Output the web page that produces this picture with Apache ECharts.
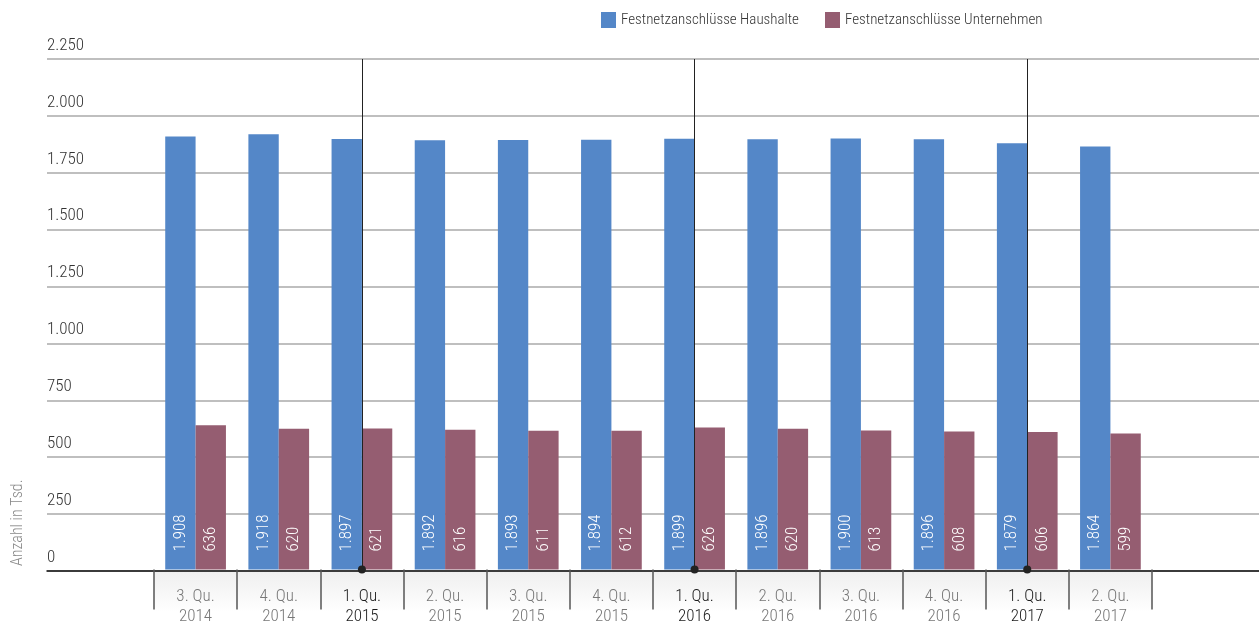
<!DOCTYPE html>
<html>
<head>
<meta charset="utf-8">
<script src="https://cdn.jsdelivr.net/npm/echarts@6/dist/echarts.min.js"></script>
<style>html,body{margin:0;padding:0;background:#fff;}#c{width:1259px;height:625px;}</style>
</head>
<body>
<div id="c"></div>
<script>
const quarters = ['3. Qu.','4. Qu.','1. Qu.','2. Qu.','3. Qu.','4. Qu.','1. Qu.','2. Qu.','3. Qu.','4. Qu.','1. Qu.','2. Qu.'];
const years = ['2014','2014','2015','2015','2015','2015','2016','2016','2016','2016','2017','2017'];
const haushalte = [1908,1918,1897,1892,1893,1894,1899,1896,1900,1896,1879,1864];
const unternehmen = [636,620,621,616,611,612,626,620,613,608,606,599];
const yTicks = [0,250,500,750,1000,1250,1500,1750,2000,2250];
const markedCategories = ['1. Qu.\n2015','1. Qu.\n2016','1. Qu.\n2017'];

const categories = quarters.map((q,i)=>q+'\n'+years[i]);
const FONT = "'Roboto Condensed','Liberation Sans Narrow','DejaVu Sans Condensed','Arial Narrow',sans-serif";
const FW = 300;
const de = v => String(v).replace(/\B(?=(\d{3})+(?!\d))/g,'.');
const TOP = 59, BOTTOM = 54;

const chart = echarts.init(document.getElementById('c'), null, {renderer:'canvas'});
chart.setOption({
  animation:false,
  textStyle:{fontFamily:FONT,fontWeight:FW},
  legend:{
    data:['Festnetzanschlüsse Haushalte','Festnetzanschlüsse Unternehmen'],
    left:596, top:7, icon:'rect', itemWidth:15, itemHeight:16, itemGap:26,
    textStyle:{fontFamily:FONT,fontWeight:FW,fontSize:15,color:'#333'}
  },
  grid:[
    {left:47,right:0,top:TOP,bottom:BOTTOM},
    {left:154,right:107,top:TOP,bottom:BOTTOM}
  ],
  xAxis:[
    {gridIndex:0,type:'value',min:0,max:1,show:true,
     axisLine:{show:true,lineStyle:{color:'#111',width:1.5}},
     axisTick:{show:false},axisLabel:{show:false},splitLine:{show:false}},
    {gridIndex:1,type:'category',data:categories,boundaryGap:true,
     axisLine:{show:false},
     axisTick:{show:true,length:40,lineStyle:{color:'#555',width:1.5}},
     axisLabel:{margin:17,interval:0,
       formatter:function(v){return markedCategories.indexOf(v)>=0?'{b|'+v.replace('\n','}\n{b|')+'}':'{n|'+v.replace('\n','}\n{n|')+'}';},
       rich:{
         n:{fontFamily:FONT,fontWeight:FW,fontSize:17,color:'#777',lineHeight:20},
         b:{fontFamily:FONT,fontWeight:FW,fontSize:17,color:'#1a1a1a',lineHeight:20}
       }}
    }
  ],
  yAxis:[
    {gridIndex:0,type:'value',min:0,max:2250,interval:250,
     axisLine:{show:false},axisTick:{show:false},
     splitLine:{show:true,lineStyle:{color:'#aaa',width:1.5}},
     axisLabel:{inside:true,margin:0,verticalAlign:'bottom',align:'left',padding:[0,0,5,0],
       fontFamily:FONT,fontWeight:FW,fontSize:17,color:'#333',formatter:de,
       customValues:yTicks}},
    {gridIndex:1,type:'value',min:0,max:2250,interval:250,show:false,splitLine:{show:false}}
  ],
  graphic:[
    {type:'rect',z:-1,shape:{x:154,y:572,width:998,height:40},
     style:{fill:new echarts.graphic.LinearGradient(0,0,0,1,[{offset:0,color:'#efefef'},{offset:1,color:'#ffffff'}])}},
    {type:'text',x:18,y:566,rotation:Math.PI/2,
     style:{text:'Anzahl in Tsd.',fill:'#888',font:FW+' 16px '+FONT,align:'left',verticalAlign:'middle'}}
  ],
  series:[
    {name:'Festnetzanschlüsse Haushalte',type:'bar',xAxisIndex:1,yAxisIndex:1,data:haushalte,
     barGap:'0%',barCategoryGap:'27%',itemStyle:{color:'#5487C8'},
     label:{show:true,position:'insideBottom',rotate:90,align:'left',verticalAlign:'middle',distance:18,
       color:'#fff',fontFamily:FONT,fontWeight:FW,fontSize:17,formatter:p=>de(p.value)}},
    {name:'Festnetzanschlüsse Unternehmen',type:'bar',xAxisIndex:1,yAxisIndex:1,data:unternehmen,
     barGap:'0%',barCategoryGap:'27%',itemStyle:{color:'#955D71'},
     label:{show:true,position:'insideBottom',rotate:90,align:'left',verticalAlign:'middle',distance:18,
       color:'#fff',fontFamily:FONT,fontWeight:FW,fontSize:17,formatter:p=>de(p.value)}},
    {name:'marks',type:'line',xAxisIndex:1,yAxisIndex:1,data:[],silent:true,
     markLine:{silent:true,symbol:['circle','none'],symbolSize:8,label:{show:false},
       lineStyle:{color:'#222',width:1,type:'solid'},emphasis:{disabled:true},
       data:markedCategories.map(c=>[{coord:[c,0]},{coord:[c,2250]}])}}
  ]
});
</script>
</body>
</html>
